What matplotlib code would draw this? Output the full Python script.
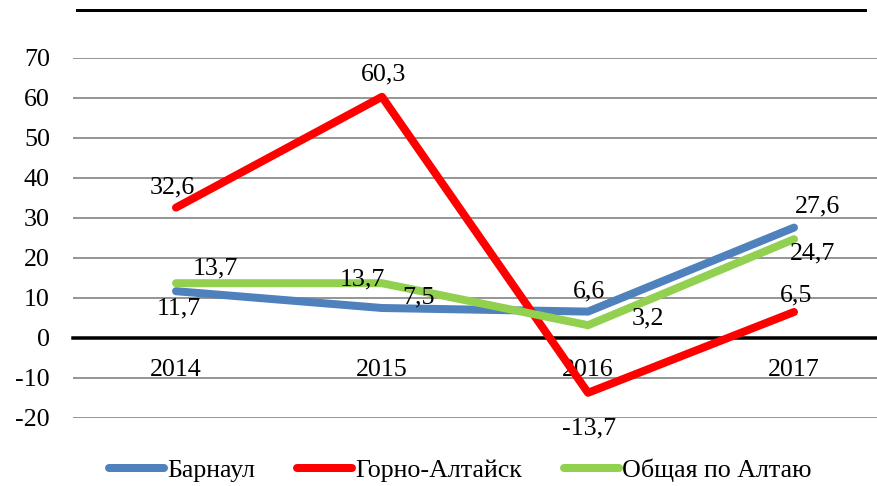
import matplotlib
matplotlib.use("Agg")
import matplotlib.pyplot as plt
from matplotlib.lines import Line2D

years = ["2014", "2015", "2016", "2017"]
barnaul = [11.7, 7.5, 6.6, 27.6]
gorno = [32.6, 60.3, -13.7, 6.5]
altai = [13.7, 13.7, 3.2, 24.7]
series_names = ["Барнаул", "Горно-Алтайск", "Общая по Алтаю"]
yticks = [-20, -10, 0, 10, 20, 30, 40, 50, 60, 70]

colors = ["#4F81BD", "#FF0000", "#92D050"]

W, H = 877, 486
DPI = 72
plt.rcParams['font.family'] = ['Liberation Serif', 'DejaVu Serif']
FS = 26

fig = plt.figure(figsize=(W / DPI, H / DPI), dpi=DPI)
left, right = 73, 897
top, bottom = 58, 418
ax = fig.add_axes([left / W, (H - bottom) / H, (right - left) / W, (bottom - top) / H])

x = list(range(len(years)))
ax.set_xlim(-0.5, len(years) - 0.5)
ax.set_ylim(-20, 70)
ax.set_yticks(yticks)
ax.set_yticklabels([str(t) for t in yticks], fontsize=FS)
ax.yaxis.grid(True, color="#8c8c8c", lw=1.8)
ax.set_axisbelow(True)
for s in ["left", "right", "top"]:
    ax.spines[s].set_visible(False)
ax.spines["bottom"].set_position(("data", 0))
ax.spines["bottom"].set_color("black")
ax.spines["bottom"].set_linewidth(3.5)
ax.spines["bottom"].set_zorder(2.5)
ax.set_xticks(x)
ax.set_xticklabels(years, fontsize=FS)
ax.tick_params(axis="both", length=0)
ax.tick_params(axis="y", pad=23)
ax.tick_params(axis="x", pad=21)

data = [barnaul, gorno, altai]
for vals, c, name in zip(data, colors, series_names):
    ax.plot(x, vals, color=c, lw=8, solid_capstyle="round", solid_joinstyle="round",
            label=name, zorder=3)

offsets = [
    [(3, -17), (37, 11), (1, 20), (24, 21)],
    [(-4, 20), (2, 22), (1, -36), (2, 17)],
    [(39, 15), (-20, 4), (60, 7), (19, -14)],
]
for vals, offs in zip(data, offsets):
    for i, (v, o) in enumerate(zip(vals, offs)):
        ax.annotate(f"{v:.1f}".replace(".", ","), xy=(i, v), xytext=o,
                    textcoords="offset points", ha="center", va="center",
                    fontsize=FS, zorder=4)

leg = ax.legend(loc="center left", bbox_to_anchor=(109 / W, (H - 470) / H),
                bbox_transform=fig.transFigure, ncol=3, frameon=False, fontsize=FS,
                handlelength=2.1, handletextpad=0.15, columnspacing=1.6,
                borderpad=0, borderaxespad=0)
for h in leg.get_lines():
    h.set_linewidth(8)
    h.set_solid_capstyle("round")

fig.add_artist(Line2D([77 / W, 865 / W], [(H - 10) / H, (H - 10) / H],
                      transform=fig.transFigure, color="black", lw=3))

fig.savefig("out.png", dpi=DPI)
